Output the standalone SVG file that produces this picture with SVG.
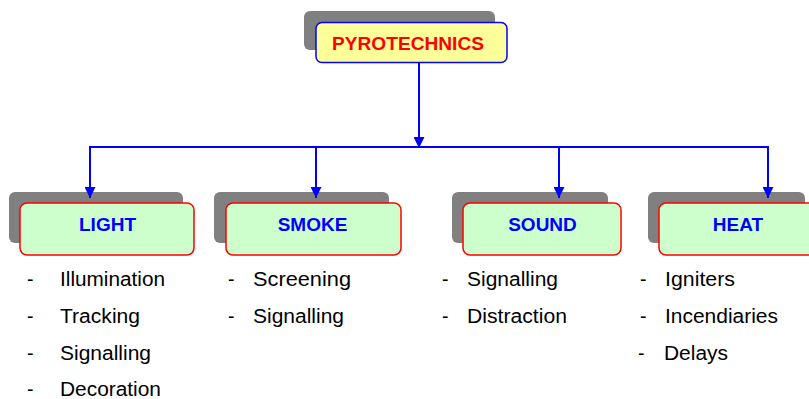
<svg xmlns="http://www.w3.org/2000/svg" width="809" height="399" viewBox="0 0 809 399">
<defs>
<style>
.shadow{fill:#808080;}
.top{fill:#FFFF99;stroke:#0000FF;stroke-width:1.5;}
.box{fill:#CCFFCC;stroke:#FF0000;stroke-width:1.5;}
.ttl{font-family:"Liberation Sans",Arial,sans-serif;font-weight:bold;font-size:18px;fill:#FF0000;text-anchor:middle;}
.lbl{font-family:"Liberation Sans",Arial,sans-serif;font-weight:bold;font-size:19px;fill:#0000FF;text-anchor:middle;}
.item{font-family:"Liberation Sans",Arial,sans-serif;font-size:19.5px;fill:#000000;}
.conn{stroke:#0000FF;stroke-width:2;fill:none;}
</style>
<marker id="ah" markerUnits="userSpaceOnUse" markerWidth="11" markerHeight="11" refX="11" refY="5.5" orient="auto">
<path d="M0,0 L11,5.5 L0,11 Z" fill="#0000FF"/>
</marker>
</defs>
<rect width="809" height="399" fill="#FFFFFF"/>
<g id="pyrotechnics">
<rect class="shadow" x="304" y="11" width="191" height="39" rx="6"/>
<rect class="top" x="316" y="22.5" width="191" height="40" rx="6"/>
<text class="ttl" x="408" y="50" textLength="152" lengthAdjust="spacingAndGlyphs">PYROTECHNICS</text>
</g>
<g id="light">
<rect class="shadow" x="9" y="192" width="174" height="51" rx="6"/>
<rect class="box" x="20" y="203" width="174" height="52" rx="7"/>
<text class="lbl" x="107.5" y="231">LIGHT</text>
</g>
<g id="smoke">
<rect class="shadow" x="214" y="192" width="175" height="51" rx="6"/>
<rect class="box" x="226" y="203" width="175" height="52" rx="7"/>
<text class="lbl" x="312.5" y="231">SMOKE</text>
</g>
<g id="sound">
<rect class="shadow" x="452" y="192" width="156" height="51" rx="6"/>
<rect class="box" x="463" y="203" width="158" height="52" rx="7"/>
<text class="lbl" x="542.5" y="231">SOUND</text>
</g>
<g id="heat">
<rect class="shadow" x="648" y="192" width="157" height="51" rx="6"/>
<rect class="box" x="659" y="203" width="160" height="52" rx="7"/>
<text class="lbl" x="738" y="231">HEAT</text>
</g>
<g id="light-list">
<text class="item" x="27" y="286">-</text>
<text class="item" x="60" y="286" textLength="105" lengthAdjust="spacingAndGlyphs">Illumination</text>
<text class="item" x="27" y="323">-</text>
<text class="item" x="60" y="323" textLength="80" lengthAdjust="spacingAndGlyphs">Tracking</text>
<text class="item" x="27" y="360">-</text>
<text class="item" x="60" y="360" textLength="91" lengthAdjust="spacingAndGlyphs">Signalling</text>
<text class="item" x="27" y="396">-</text>
<text class="item" x="60" y="396" textLength="101" lengthAdjust="spacingAndGlyphs">Decoration</text>
</g>
<g id="smoke-list">
<text class="item" x="228" y="286">-</text>
<text class="item" x="253" y="286" textLength="98" lengthAdjust="spacingAndGlyphs">Screening</text>
<text class="item" x="228" y="323">-</text>
<text class="item" x="253" y="323" textLength="91" lengthAdjust="spacingAndGlyphs">Signalling</text>
</g>
<g id="sound-list">
<text class="item" x="442" y="286">-</text>
<text class="item" x="467" y="286" textLength="91" lengthAdjust="spacingAndGlyphs">Signalling</text>
<text class="item" x="442" y="323">-</text>
<text class="item" x="467" y="323" textLength="100" lengthAdjust="spacingAndGlyphs">Distraction</text>
</g>
<g id="heat-list">
<text class="item" x="640" y="286">-</text>
<text class="item" x="665" y="286" textLength="70" lengthAdjust="spacingAndGlyphs">Igniters</text>
<text class="item" x="640" y="323">-</text>
<text class="item" x="665" y="323" textLength="113" lengthAdjust="spacingAndGlyphs">Incendiaries</text>
<text class="item" x="638" y="360">-</text>
<text class="item" x="664" y="360" textLength="64" lengthAdjust="spacingAndGlyphs">Delays</text>
</g>
<g id="connectors">
<line class="conn" x1="419" y1="63" x2="419" y2="148" marker-end="url(#ah)"/>
<line class="conn" x1="89" y1="147" x2="769" y2="147"/>
<line class="conn" x1="90" y1="147" x2="90" y2="198" marker-end="url(#ah)"/>
<line class="conn" x1="316" y1="147" x2="316" y2="198" marker-end="url(#ah)"/>
<line class="conn" x1="559" y1="147" x2="559" y2="198" marker-end="url(#ah)"/>
<line class="conn" x1="768" y1="147" x2="768" y2="198" marker-end="url(#ah)"/>
</g>
</svg>
